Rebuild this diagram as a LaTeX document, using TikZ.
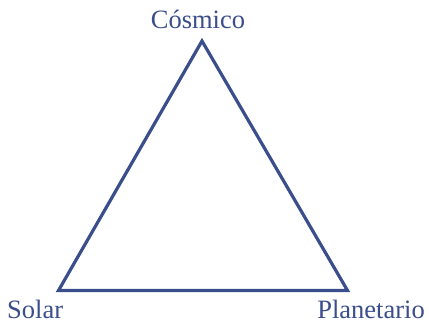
\documentclass[tikz,border=0pt]{standalone}
\usepackage{fontspec}
\setmainfont{Liberation Serif}
\definecolor{tri}{RGB}{59,78,140}
\begin{document}
\begin{tikzpicture}[x=1pt,y=-1pt,
  lbl/.style={text=tri,font=\fontsize{26.5}{30}\selectfont,inner sep=0pt,anchor=base},
  edge/.style={draw=tri,line width=3.2pt,line join=miter}]
\useasboundingbox (0,0) rectangle (429,324);
\coordinate (c) at (202,41);
\coordinate (s) at (58.5,290.5);
\coordinate (p) at (347.5,290.5);
\draw[edge] (c) -- (s) -- (p) -- cycle;
\node[lbl] (tc) at (198,28) {Cósmico};
\node[lbl,anchor=base west] (ts) at (7,318) {Solar};
\node[lbl,anchor=base east] (tp) at (425,318) {Planetario};
\end{tikzpicture}
\end{document}
